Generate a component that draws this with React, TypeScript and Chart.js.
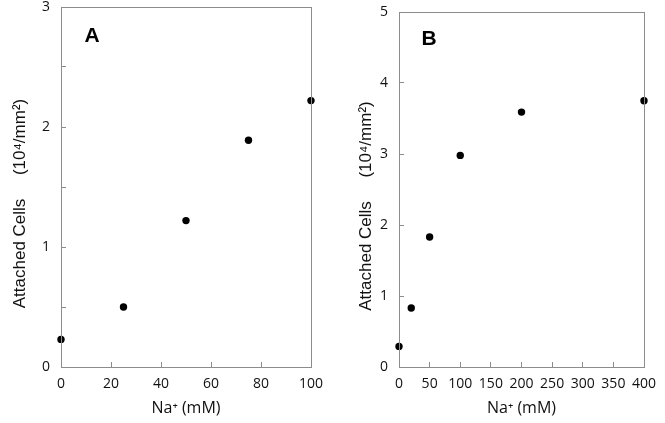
import React, { useEffect, useRef } from "react";
import { Chart, registerables } from "chart.js";

Chart.register(...registerables);

// Panel A data
const naA = [0, 25, 50, 75, 100];
const cellsA = [0.23, 0.5, 1.22, 1.89, 2.22];
// Panel B data
const naB = [0, 20, 50, 100, 200, 400];
const cellsB = [0.29, 0.83, 1.83, 2.98, 3.59, 3.75];

const xTitle = "Na\u207A (mM)";
const yTitle = "Attached Cells     (10\u2074/mm\u00B2)" + "       ";

const AXIS_GREY = "#8c8c8c";
const TICK_FONT = { family: "'Open Sans', 'DejaVu Sans', sans-serif", size: 14, lineHeight: 1 };

type PanelSpec = {
  xs: number[];
  ys: number[];
  letter: string;
  letterX: number;
  letterY: number;
  xMax: number;
  xStep: number;
  yMax: number;
  yStep: number;
  yAxisWidth: number;
  padTop: number;
  padRight: number;
  yTitlePad: number;
  width: number;
};

const framePlugin = {
  id: "frameAndLetter",
  afterDraw(chart: any) {
    const { ctx, chartArea } = chart;
    const spec = chart.options.plugins.frameAndLetter as { letter: string; lx: number; ly: number };
    ctx.save();
    ctx.strokeStyle = AXIS_GREY;
    ctx.lineWidth = 1;
    ctx.strokeRect(
      Math.round(chartArea.left) + 0.5,
      Math.round(chartArea.top) + 0.5,
      Math.round(chartArea.right - chartArea.left),
      Math.round(chartArea.bottom - chartArea.top)
    );
    const px = chart.scales.x.getPixelForValue(spec.lx);
    const py = chart.scales.y.getPixelForValue(spec.ly);
    ctx.fillStyle = "#000";
    ctx.font = "bold 21px 'Liberation Sans', Arial, sans-serif";
    ctx.textAlign = "center";
    ctx.textBaseline = "middle";
    ctx.fillText(spec.letter, px, py);
    ctx.restore();
  },
};

function Panel({ spec, left }: { spec: PanelSpec; left: number }) {
  const ref = useRef<HTMLCanvasElement | null>(null);
  useEffect(() => {
    if (!ref.current) return;
    const chart = new Chart(ref.current, {
      type: "scatter",
      data: {
        datasets: [
          {
            data: spec.xs.map((x, i) => ({ x, y: spec.ys[i] })),
            backgroundColor: "#000",
            borderColor: "#000",
            borderWidth: 0,
            pointRadius: 3.7,
            showLine: false,
            clip: false,
          } as any,
        ],
      },
      options: {
        responsive: false,
        animation: false,
        events: [],
        layout: { padding: { top: spec.padTop, right: spec.padRight, left: 0, bottom: 0 } },
        plugins: {
          legend: { display: false },
          tooltip: { enabled: false },
          frameAndLetter: { letter: spec.letter, lx: spec.letterX, ly: spec.letterY },
        } as any,
        scales: {
          x: {
            type: "linear",
            min: 0,
            max: spec.xMax,
            afterFit: (s: any) => {
              s.height = 56;
              s.paddingLeft = 0;
              s.paddingRight = 0;
            },
            border: { display: false },
            grid: {
              drawOnChartArea: false,
              drawTicks: true,
              tickLength: -5,
              color: AXIS_GREY,
            },
            ticks: {
              stepSize: spec.xStep,
              padding: 15,
              color: "#111",
              font: TICK_FONT,
              maxRotation: 0,
            },
            title: {
              display: true,
              text: xTitle,
              color: "#111",
              font: { family: "'Open Sans', 'DejaVu Sans', sans-serif", size: 16 },
              padding: { top: 0, bottom: 5 },
            },
          },
          y: {
            type: "linear",
            min: 0,
            max: spec.yMax,
            afterFit: (s: any) => {
              s.width = spec.yAxisWidth;
              s.paddingTop = 0;
              s.paddingBottom = 0;
            },
            border: { display: false },
            grid: {
              drawOnChartArea: false,
              drawTicks: true,
              tickLength: -5,
              color: AXIS_GREY,
            },
            ticks: {
              stepSize: spec.yStep,
              padding: 16,
              color: "#111",
              font: TICK_FONT,
              callback: (v: any) => (Number.isInteger(v) ? String(v) : ""),
            },
            title: {
              display: true,
              text: yTitle,
              color: "#111",
              font: { family: "'Liberation Sans', Arial, sans-serif", size: 17 },
              padding: { top: spec.yTitlePad, bottom: 0 },
            },
          },
        },
      },
      plugins: [framePlugin],
    });
    return () => chart.destroy();
  }, [spec]);
  return (
    <canvas
      ref={ref}
      width={spec.width}
      height={423}
      style={{ position: "absolute", left, top: 0, width: spec.width, height: 423 }}
    />
  );
}

const specA: PanelSpec = {
  xs: naA,
  ys: cellsA,
  letter: "A",
  letterX: 12.4,
  letterY: 2.76,
  xMax: 100,
  xStep: 20,
  yMax: 3,
  yStep: 0.5,
  yAxisWidth: 61,
  padTop: 7,
  padRight: 19,
  yTitlePad: 10,
  width: 330,
};

const specB: PanelSpec = {
  xs: naB,
  ys: cellsB,
  letter: "B",
  letterX: 49,
  letterY: 4.61,
  xMax: 400,
  xStep: 50,
  yMax: 5,
  yStep: 1,
  yAxisWidth: 69,
  padTop: 12,
  padRight: 21,
  yTitlePad: 26,
  width: 335,
};

export default function App() {
  return (
    <div
      style={{
        position: "fixed",
        left: 0,
        top: 0,
        width: 665,
        height: 423,
        background: "#fff",
        overflow: "hidden",
      }}
    >
      <Panel spec={specA} left={0} />
      <Panel spec={specB} left={330} />
    </div>
  );
}
